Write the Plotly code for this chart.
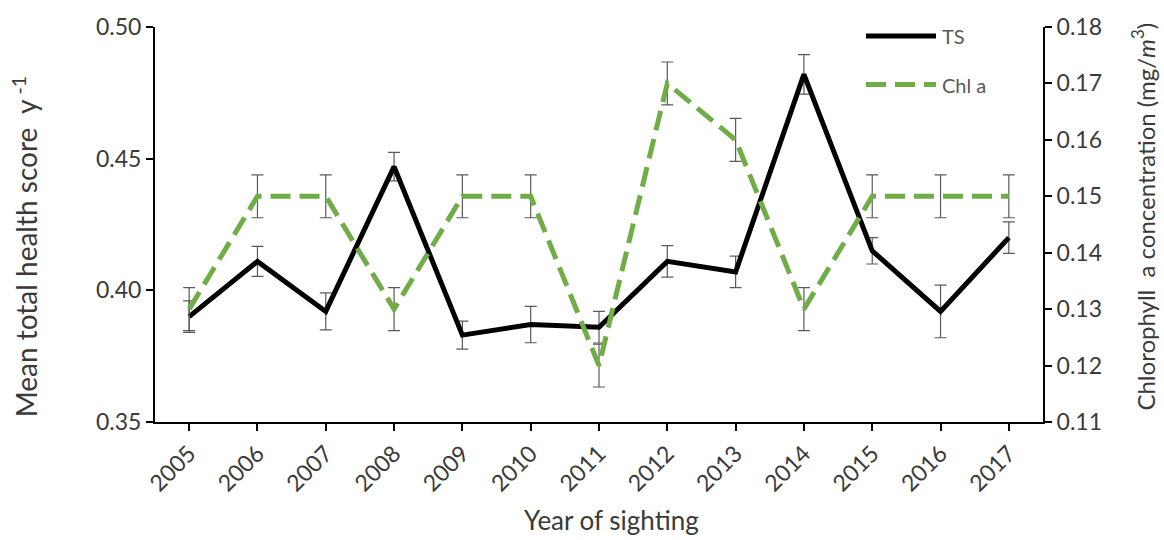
import plotly.graph_objects as go

# Yearly series
years = ["2005", "2006", "2007", "2008", "2009", "2010", "2011",
         "2012", "2013", "2014", "2015", "2016", "2017"]
ts_mean = [0.390, 0.411, 0.392, 0.447, 0.383, 0.387, 0.386,
           0.411, 0.407, 0.482, 0.415, 0.392, 0.420]
ts_err = [0.006, 0.0057, 0.007, 0.0054, 0.0053, 0.0069, 0.006,
          0.006, 0.006, 0.0075, 0.005, 0.010, 0.006]
chl_mean = [0.13, 0.15, 0.15, 0.13, 0.15, 0.15, 0.12,
            0.17, 0.16, 0.13, 0.15, 0.15, 0.15]
chl_err = [0.0038] * 13

left_ticks = [0.35, 0.40, 0.45, 0.50]
right_ticks = [0.11, 0.12, 0.13, 0.14, 0.15, 0.16, 0.17, 0.18]

FONT = "Lato"
TXT = "#3a3a3a"
ERR = "#5a5a5a"
GREEN = "#70AD47"

fig = go.Figure()

fig.add_trace(go.Scatter(
    x=years, y=ts_mean, name="TS", mode="lines",
    line=dict(color="black", width=5),
    error_y=dict(type="data", array=ts_err, color=ERR, thickness=1.2, width=6),
    yaxis="y", showlegend=False,
))
fig.add_trace(go.Scatter(
    x=years, y=chl_mean, name="Chl a", mode="lines",
    line=dict(color=GREEN, width=5, dash="20px,9px"),
    error_y=dict(type="data", array=chl_err, color=ERR, thickness=1.2, width=6),
    yaxis="y2", showlegend=False,
))

# Plot-area geometry in pixels, and helpers to place paper-anchored items
L, T, W, H = 155, 24, 888, 398
def px(xp):
    return (xp - L) / W
def py(yp):
    return (T + H - yp) / H

# Legend keys
legend_items = [("TS", "black", "solid", 33), ("Chl a", GREEN, "20px,9px", 82)]
for label, color, dash, ypix in legend_items:
    fig.add_shape(type="line", xref="paper", yref="paper",
                  x0=px(866), x1=px(936), y0=py(ypix), y1=py(ypix),
                  line=dict(color=color, width=5, dash=dash))
    fig.add_annotation(xref="paper", yref="paper", x=px(940), y=py(ypix),
                       text=label, showarrow=False, xanchor="left", yanchor="middle",
                       font=dict(family=FONT, size=20, color="#595959"))

# Axis titles
titles = [
    ("Mean total health score  y<sup> -1</sup>", 25, 246, -90, 28),
    ("Chlorophyll  a concentration (mg/<i>m</i><sup>3</sup>)", 1143, 215, -90, 24),
    ("Year of sighting", 611, 521, 0, 26),
]
for text, xp, yp, ang, size in titles:
    fig.add_annotation(xref="paper", yref="paper", x=px(xp), y=py(yp),
                       text=text, showarrow=False, textangle=ang,
                       xanchor="center", yanchor="middle",
                       font=dict(family=FONT, size=size, color=TXT))

axis_common = dict(showline=True, linecolor="black", linewidth=2,
                   ticks="outside", tickcolor="black", tickwidth=2, ticklen=7,
                   showgrid=False, zeroline=False,
                   tickfont=dict(family=FONT, size=23, color=TXT))

fig.update_layout(
    width=1164, height=540,
    margin=dict(l=L, r=1164 - L - W, t=T, b=540 - T - H),
    paper_bgcolor="white", plot_bgcolor="white",
    xaxis=dict(type="category", range=[-0.5, 12.5], tickangle=-45, **axis_common),
    yaxis=dict(range=[0.35, 0.50], tickvals=left_ticks, tickformat=".2f", **axis_common),
    yaxis2=dict(range=[0.11, 0.18], tickvals=right_ticks, tickformat=".2f",
                overlaying="y", side="right", **axis_common),
)

fig.write_html("out.html")
